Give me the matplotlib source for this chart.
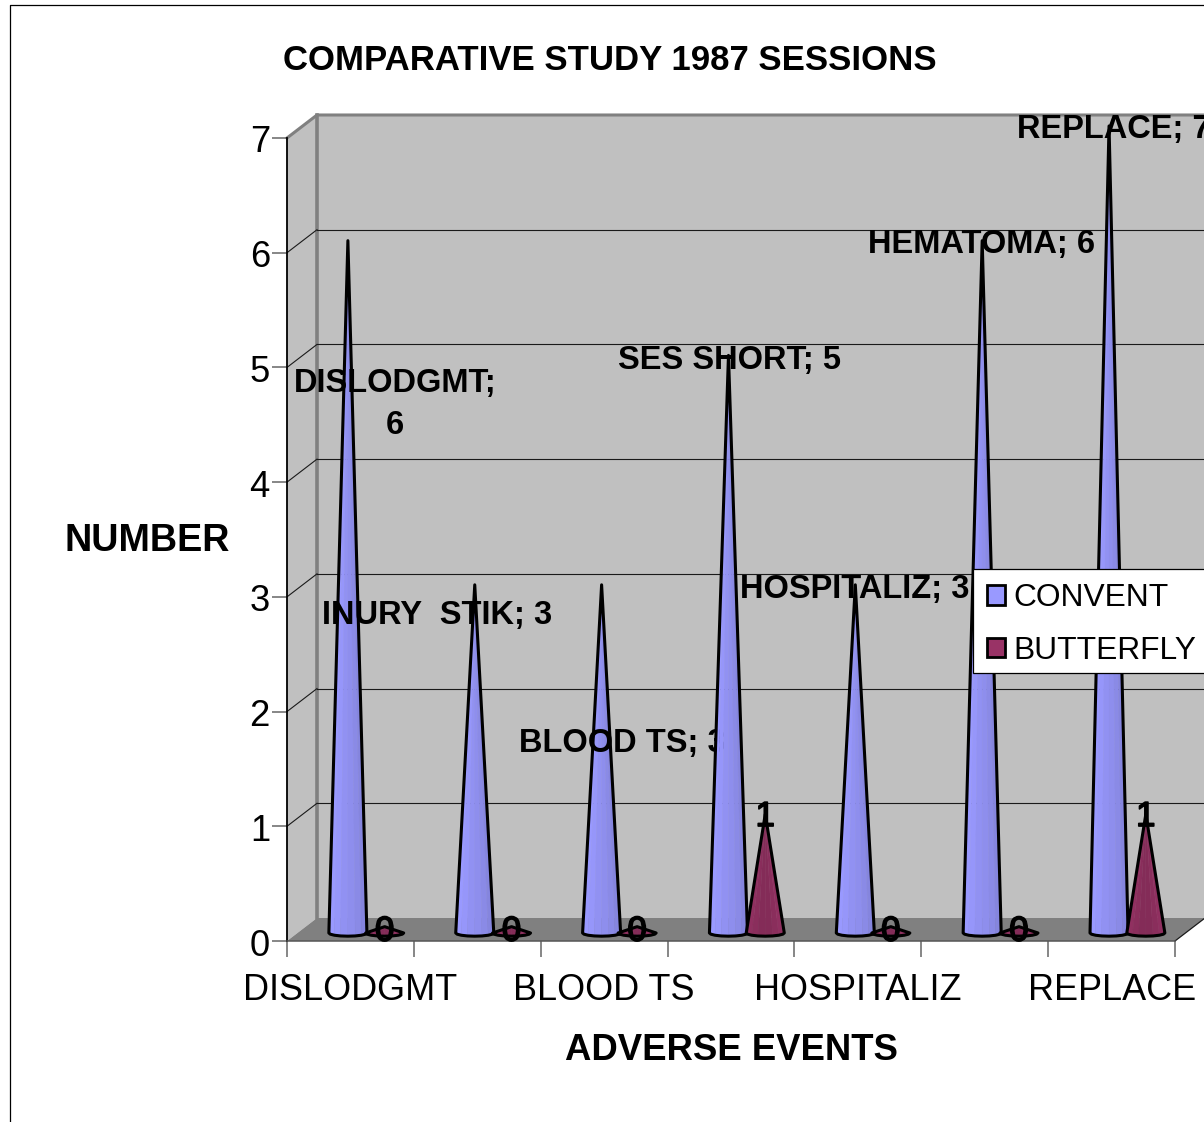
import numpy as np
import matplotlib
matplotlib.use("Agg")
import matplotlib.pyplot as plt
from matplotlib.patches import Polygon, Patch, Rectangle
from matplotlib.lines import Line2D
from matplotlib.transforms import ScaledTranslation
import matplotlib.patheffects as pe

categories = ['DISLODGMT', 'INURY  STIK', 'BLOOD TS', 'SES SHORT', 'HOSPITALIZ', 'HEMATOMA', 'REPLACE']
convent = [6, 3, 3, 5, 3, 6, 7]
butterfly = [0, 0, 0, 1, 0, 0, 1]
convent_labels = ['DISLODGMT;\n6', 'INURY  STIK; 3', 'BLOOD TS; 3', 'SES SHORT; 5',
                  'HOSPITALIZ; 3', 'HEMATOMA; 6', 'REPLACE; 7']
label_x = [0.851, 1.182, 2.641, 3.492, 4.477, 5.471, 6.515]
label_y = [4.678, 2.834, 1.726, 5.057, 3.060, 6.068, 7.078]

W, H = 1204, 1122
plt.rcParams['font.family'] = ['Liberation Sans', 'DejaVu Sans']
fig = plt.figure(figsize=(W / 100, H / 100), dpi=100, facecolor='white')
ax = fig.add_axes([287 / W, 1 - 941 / H, (1175 - 287) / W, (941 - 138) / H])
ax.set_xlim(0, 7)
ax.set_ylim(0, 7)
ax.patch.set_visible(False)

DX, DY = 30 / (888 / 7), 23 / (803 / 7)
WALL, FLOOR = '#C0C0C0', '#808080'
n = len(categories)

# walls and floor
ax.add_patch(Polygon([(DX, DY), (n + DX, DY), (n + DX, 7 + DY), (DX, 7 + DY)], fc=WALL, ec='none', zorder=1, clip_on=False))
ax.add_patch(Polygon([(0, 0), (DX, DY), (DX, 7 + DY), (0, 7)], fc=WALL, ec='none', zorder=1, clip_on=False))
ax.add_patch(Polygon([(0, 0), (n, 0), (n + DX, DY), (DX, DY)], fc=FLOOR, ec='none', zorder=1.2, clip_on=False))
for v in range(1, 7):
    ax.plot([DX, n + DX], [v + DY] * 2, color='#1a1a1a', lw=0.8, zorder=1.4, clip_on=False)
    ax.plot([0, DX], [v, v + DY], color='#1a1a1a', lw=0.8, zorder=1.4, clip_on=False)
ax.plot([0, DX, n + DX], [7, 7 + DY, 7 + DY], color=FLOOR, lw=2.2, zorder=1.5, clip_on=False)
ax.plot([DX, DX], [DY, 7 + DY], color=FLOOR, lw=2.6, zorder=1.3, clip_on=False)
ax.plot([n, n + DX], [0, DY], color='#1a1a1a', lw=0.9, zorder=1.5, clip_on=False)


def shade(hexa, f):
    rgb = np.array(matplotlib.colors.to_rgb(hexa))
    return tuple(np.clip(rgb * f, 0, 1))


def cone(cx, value, color, shades, z, base=0.07, rx=0.15, ry=0.028, min_h=0.055, tip=0.035):
    t = np.linspace(np.pi, 2 * np.pi, len(shades) + 1)
    bx = cx + rx * np.cos(t)
    by = base + ry * np.sin(t)
    apex = (cx, base + (value + tip if value > 0 else min_h))
    for i, f in enumerate(shades):
        ax.add_patch(Polygon([apex, (bx[i], by[i]), (bx[i + 1], by[i + 1])],
                             fc=shade(color, f), ec=shade(color, f), lw=0.3, zorder=z, clip_on=False))
    ax.add_patch(Polygon([apex] + list(zip(bx, by)), fc='none', ec='black', lw=2.2,
                         joinstyle='round', zorder=z + 0.1, clip_on=False))


blue_shades = [1.0, 1.0, 0.98, 0.95, 0.93, 0.9, 0.87, 0.84]
red_shades = [1.0, 0.94, 0.9, 0.86, 0.86, 0.9, 0.94, 1.0]
BLUE, RED = '#9999FF', '#993366'
FS_LABEL = 23.5
thick = [pe.withStroke(linewidth=1.2, foreground='black')]

for i in range(n):
    z = 3 + i
    cone(i + 0.48, convent[i], BLUE, blue_shades, z)
    cone(i + 0.77 - 0.01 * (i in (2, 4)), butterfly[i], RED, red_shades, z + 0.2)
    ax.text(i + 0.77 - 0.01 * (i in (2, 4)), butterfly[i] + 0.085, str(butterfly[i]), ha='center', va='center',
            fontsize=25, zorder=z + 0.4, clip_on=False, path_effects=thick)
    ax.text(label_x[i], label_y[i], convent_labels[i], ha='center', va='center', multialignment='center',
            fontsize=FS_LABEL, fontweight='bold', linespacing=1.46, zorder=z + 0.5, clip_on=False)

# axes furniture
for s in ['top', 'right']:
    ax.spines[s].set_visible(False)
ax.spines['left'].set_color('black')
ax.spines['left'].set_linewidth(1.3)
ax.spines['bottom'].set_color('#555555')
ax.spines['bottom'].set_linewidth(1.1)
ax.set_yticks(range(8))
ax.tick_params(axis='y', length=10.8, width=1.1, color='#666666', labelsize=26.2, pad=1.5)
shift = ScaledTranslation(0, -1 / 100, fig.dpi_scale_trans)
for lab in ax.get_yticklabels():
    lab.set_transform(lab.get_transform() + shift)
ax.set_xticks(range(8))
ax.set_xticklabels([])
ax.tick_params(axis='x', which='major', length=11.5, width=1.1, color='#666666')
ax.set_xticks([j + 0.5 for j in range(0, n, 2)], minor=True)
ax.set_xticklabels(categories[0::2], minor=True)
ax.tick_params(axis='x', which='minor', length=0, labelsize=25.9, pad=23)

ax.set_title('COMPARATIVE STUDY 1987 SESSIONS', fontsize=25, fontweight='bold',
             x=(610 - 287) / 888, y=(941 - 70) / 803, pad=0, va='baseline')
ax.set_xlabel('ADVERSE EVENTS', fontsize=26.3, fontweight='bold')
ax.xaxis.set_label_coords(731 / W, 1 - 1051 / H, transform=fig.transFigure)
ax.xaxis.label.set_va('center')
ax.set_ylabel('NUMBER', fontsize=27.2, fontweight='bold', rotation=0, ha='center', va='center')
ax.yaxis.set_label_coords(147 / W, 1 - 541 / H, transform=fig.transFigure)

# legend box is drawn separately so its height can match the source exactly
fig.add_artist(Rectangle((973 / W, 1 - 673 / H), 260 / W, 104 / H, fc='white', ec='black', lw=0.9,
                         transform=fig.transFigure, zorder=50))
handles = [Patch(fc=BLUE, ec='black', lw=2), Patch(fc=RED, ec='black', lw=2)]
leg = fig.legend(handles, ['CONVENT', 'BUTTERFLY'], loc='upper left',
                 bbox_to_anchor=(973 / W, 1 - 569 / H), bbox_transform=fig.transFigure,
                 fontsize=22.9, frameon=False,
                 borderpad=0.45, labelspacing=0.7, handlelength=0.55, handleheight=0.55,
                 handletextpad=0.27, borderaxespad=0)
leg.set_zorder(60)

# chart-area border
fig.add_artist(Line2D([10 / W, 10 / W, 1], [0, 1 - 5 / H, 1 - 5 / H], color='black', lw=0.9))

fig.savefig('out.png', dpi=100)
